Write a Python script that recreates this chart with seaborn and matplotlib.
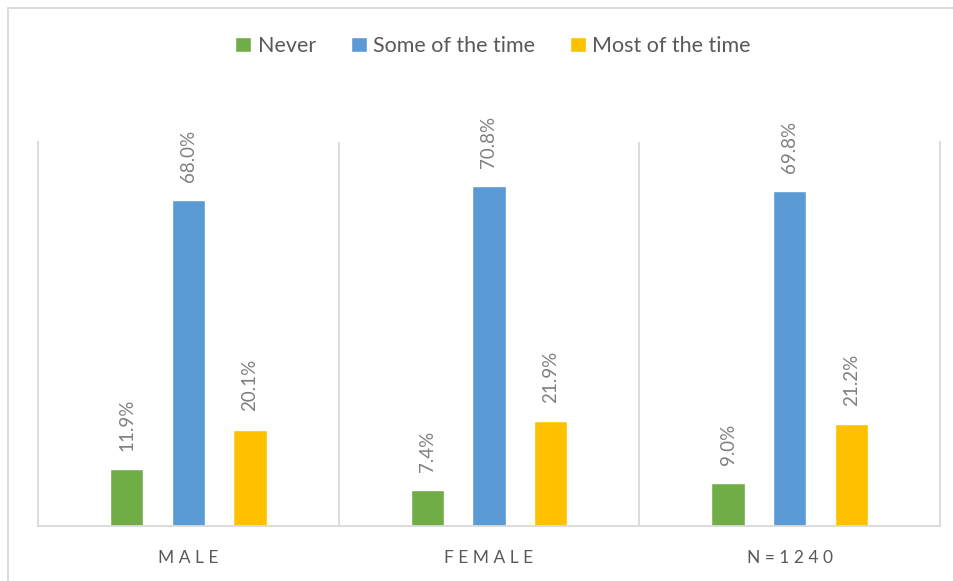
import matplotlib
matplotlib.use("Agg")
import matplotlib.pyplot as plt
from matplotlib.patches import Rectangle
import seaborn as sns
import pandas as pd

groups = ["MALE", "FEMALE", "N=1240"]
responses = ["Never", "Some of the time", "Most of the time"]
never = [11.9, 7.4, 9.0]
some_of_the_time = [68.0, 70.8, 69.8]
most_of_the_time = [20.1, 21.9, 21.2]
palette = ["#70AD47", "#5B9BD5", "#FFC000"]

rows = []
for series, vals in zip(responses, [never, some_of_the_time, most_of_the_time]):
    for g, v in zip(groups, vals):
        rows.append({"group": g, "response": series, "value": v})
df = pd.DataFrame(rows)

sns.set_theme(style="white")
plt.rcParams["font.family"] = ["Lato", "DejaVu Sans"]

fig = plt.figure(figsize=(9.54, 5.81), dpi=100)
ax = fig.add_axes([38 / 954, 1 - 526 / 581, (940 - 38) / 954, (526 - 142) / 581])

sns.barplot(data=df, x="group", y="value", hue="response", order=groups,
            hue_order=responses, palette=palette, width=0.615, gap=0.46,
            saturation=1, legend=True, ax=ax, errorbar=None)

for cont in ax.containers:
    ax.bar_label(cont, labels=[f"{v:.1f}%" for v in cont.datavalues],
                 rotation=90, padding=13, fontsize=13.5, color="#7F7F7F")

ax.set_ylim(0, 80)
ax.set_xlim(-0.5, 2.5)
ax.set_yticks([])
ax.set_ylabel("")
ax.set_xlabel("")
ax.set_xticks(range(len(groups)))
ax.set_xticklabels([" ".join(g) for g in groups], fontsize=12.5, color="#595959")
ax.tick_params(axis="x", length=0, pad=17)

grid_c = "#D9D9D9"
ax.spines["top"].set_visible(False)
for side in ["left", "right", "bottom"]:
    ax.spines[side].set_color(grid_c)
    ax.spines[side].set_linewidth(1.3)
for xpos in [0.5, 1.5]:
    ax.axvline(xpos, color=grid_c, linewidth=1.3, zorder=0)

handles, labels = ax.get_legend_handles_labels()
ax.legend_.remove()
fig.legend(handles, labels, loc="center", bbox_to_anchor=(493 / 954, 1 - 46 / 581),
           ncol=3, frameon=False, fontsize=15.5, handlelength=0.75,
           handleheight=0.75, handletextpad=0.3, columnspacing=1.6,
           labelcolor="#595959")

# light frame around the chart area
fig.patches.append(Rectangle((8 / 954, -0.05), 1.0, 1 - 8 / 581 + 0.05,
                             transform=fig.transFigure, fill=False,
                             edgecolor=grid_c, linewidth=1.3))

fig.savefig("out.png", dpi=100)
